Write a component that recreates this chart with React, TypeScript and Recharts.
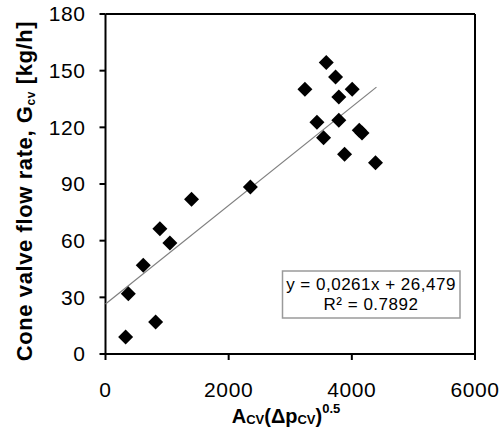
import React from 'react';
import { ScatterChart, Scatter, XAxis, YAxis, ReferenceLine } from 'recharts';

const xValues = [327, 370, 613, 814, 883, 1045, 1397, 2353, 3238, 3433, 3541, 3585, 3736, 3789, 3789, 3882, 4006, 4120, 4165, 4384];
const yValues = [9.0, 31.9, 47.0, 17.0, 66.3, 58.7, 81.9, 88.4, 140.2, 122.7, 114.5, 154.3, 146.7, 136.1, 123.8, 105.7, 140.2, 118.5, 117.0, 101.2];

const trendX = [0, 4400];
const trendY = [26.5, 141.3];

const xTicks = [0, 2000, 4000, 6000];
const yTicks = [0, 30, 60, 90, 120, 150, 180];

const equationText = 'y = 0,0261x + 26,479';
const r2Text = 'R² = 0.7892';

const points = xValues.map((x, i) => ({ x, y: yValues[i] }));
const trend = trendX.map((x, i) => ({ x, y: trendY[i] }));

const FONT = '"Liberation Sans", Arial, sans-serif';

const Diamond = (props: any) => {
  const { cx, cy } = props;
  if (cx == null || cy == null) return <g />;
  const r = 7.5;
  return (
    <polygon
      points={`${cx},${cy - r} ${cx + r},${cy} ${cx},${cy + r} ${cx - r},${cy}`}
      fill="#000"
    />
  );
};

const NoShape = () => <g />;

export default function App() {
  return (
    <div style={{ position: 'absolute', left: 0, top: 0, width: 504, height: 434, background: '#fff', fontFamily: FONT }}>
      <ScatterChart width={504} height={434} margin={{ top: 14, right: 29, left: 0, bottom: 0 }}>
        <XAxis
          type="number"
          dataKey="x"
          domain={[0, 6000]}
          ticks={xTicks}
          interval={0}
          height={80}
          axisLine={{ stroke: '#000', strokeWidth: 2 }}
          tickLine={{ stroke: '#000', strokeWidth: 2 }}
          tickSize={6}
          tickMargin={22}
          tick={{ fill: '#000', fontSize: 21, fontFamily: FONT, letterSpacing: 0.6 }}
        />
        <YAxis
          type="number"
          dataKey="y"
          domain={[0, 180]}
          ticks={yTicks}
          interval={0}
          width={105.5}
          axisLine={{ stroke: '#000', strokeWidth: 2 }}
          tickLine={{ stroke: '#000', strokeWidth: 2 }}
          tickSize={6}
          tickMargin={14}
          tick={{ fill: '#000', fontSize: 21, fontFamily: FONT, letterSpacing: 0.6 }}
        />
        <ReferenceLine y={180} stroke="#000" strokeWidth={2} />
        <ReferenceLine x={6000} stroke="#000" strokeWidth={2} />
        <Scatter
          data={trend}
          line={{ stroke: '#808080', strokeWidth: 1.2 }}
          shape={NoShape}
          isAnimationActive={false}
        />
        <Scatter data={points} shape={Diamond} isAnimationActive={false} />
      </ScatterChart>
      <svg
        width={504}
        height={434}
        style={{ position: 'absolute', left: 0, top: 0, pointerEvents: 'none' }}
      >
        <text
          transform="translate(31.7,191) rotate(-90)"
          textAnchor="middle"
          fontFamily={FONT}
          fontWeight="bold"
          fontSize={22}
          letterSpacing={0.6}
          fill="#000"
        >
          Cone valve flow rate, G
          <tspan fontSize={12} dy={3}>cv</tspan>
          <tspan dy={-3}> [kg/h]</tspan>
        </text>
        <text
          x={286}
          y={423}
          textAnchor="middle"
          fontFamily={FONT}
          fontWeight="bold"
          fontSize={20}
          fill="#000"
        >
          A
          <tspan fontSize={13} dy={1}>CV</tspan>
          <tspan dy={-1}>(Δp</tspan>
          <tspan fontSize={13} dy={1}>CV</tspan>
          <tspan dy={-1}>)</tspan>
          <tspan fontSize={13} dy={-10}>0.5</tspan>
        </text>
        <rect x={282.5} y={271} width={177.5} height={47} fill="#fff" stroke="#9a9a9a" strokeWidth={1.5} />
        <text x={371} y={290} textAnchor="middle" fontFamily={FONT} fontSize={17} letterSpacing={0.5} fill="#000">
          {equationText}
        </text>
        <text x={371} y={310} textAnchor="middle" fontFamily={FONT} fontSize={17} letterSpacing={0.5} fill="#000">
          {r2Text}
        </text>
      </svg>
    </div>
  );
}
